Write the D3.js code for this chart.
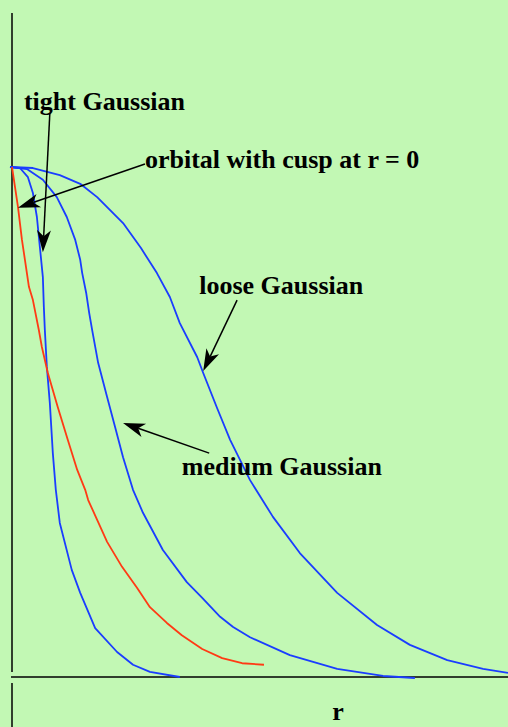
<!DOCTYPE html>
<html>
<head>
<meta charset="utf-8">
<script src="https://cdn.jsdelivr.net/npm/d3@7"></script>
<style>
  html, body { margin: 0; padding: 0; background: #c2f8b4; overflow: hidden; }
  svg { display: block; }
  text { font-family: "Liberation Serif", "Times New Roman", serif; font-weight: bold; fill: #000; }
</style>
</head>
<body>
<svg id="chart" width="508" height="727"></svg>
<script>
// Radial wavefunctions psi(r), normalised to 1 at the nucleus.
const tightR   = [0, 0.20, 0.36, 0.46, 0.54, 0.60, 0.66, 0.68, 0.70, 0.74, 0.80, 0.86, 0.92, 1.00, 1.24, 1.41, 1.71, 2.15, 2.47, 2.81, 3.41];
const tightPsi = [1.000, 0.998, 0.980, 0.949, 0.902, 0.843, 0.784, 0.725, 0.680, 0.608, 0.537, 0.439, 0.367, 0.302, 0.210, 0.165, 0.096, 0.049, 0.024, 0.010, 0.000];

const cuspR   = [0.04, 0.10, 0.16, 0.24, 0.30, 0.38, 0.46, 0.58, 0.64, 0.76, 0.96, 1.16, 1.35, 1.51, 1.57, 1.75, 1.95, 2.25, 2.55, 2.81, 3.15, 3.45, 3.86, 4.26, 4.66, 5.10];
const cuspPsi = [1.000, 0.961, 0.922, 0.857, 0.818, 0.765, 0.739, 0.680, 0.647, 0.596, 0.529, 0.465, 0.406, 0.367, 0.347, 0.308, 0.265, 0.216, 0.175, 0.137, 0.106, 0.082, 0.055, 0.037, 0.027, 0.024];

const mediumR   = [0, 0.34, 0.66, 0.94, 1.14, 1.31, 1.41, 1.45, 1.53, 1.59, 1.65, 1.77, 1.95, 2.11, 2.27, 2.47, 2.67, 3.07, 3.55, 3.86, 4.22, 4.48, 4.82, 5.62, 6.57, 7.49, 8.13];
const mediumPsi = [1.000, 0.996, 0.975, 0.941, 0.902, 0.857, 0.818, 0.792, 0.753, 0.714, 0.680, 0.616, 0.549, 0.490, 0.431, 0.367, 0.322, 0.249, 0.186, 0.155, 0.118, 0.098, 0.078, 0.043, 0.016, 0.002, -0.002];

const looseR   = [0, 0.46, 1.00, 1.41, 1.75, 2.27, 2.63, 2.95, 3.21, 3.41, 3.76, 3.88, 4.16, 4.42, 4.82, 5.28, 5.82, 6.57, 7.37, 8.03, 8.78, 9.50, 10.00];
const loosePsi = [1.000, 0.998, 0.984, 0.967, 0.941, 0.890, 0.841, 0.792, 0.745, 0.694, 0.627, 0.596, 0.527, 0.465, 0.386, 0.314, 0.243, 0.165, 0.102, 0.063, 0.033, 0.016, 0.008];

// Annotation text and arrows, in data coordinates (r, psi).
const labelText = ["tight Gaussian", "orbital with cusp at r = 0", "loose Gaussian", "medium Gaussian"];
const labelR    = [0.28, 2.71, 3.80, 3.45];
const labelPsi  = [1.112, 0.998, 0.751, 0.396];
const arrowFromR   = [0.80, 2.71, 4.56, 4.00];
const arrowFromPsi = [1.106, 1.006, 0.739, 0.439];
const arrowToR     = [0.66, 0.16, 3.88, 2.27];
const arrowToPsi   = [0.833, 0.920, 0.600, 0.498];

const axisTitle = "r";

const svg = d3.select("#chart");
const W = 508, H = 727;

const x = d3.scaleLinear().domain([0, 10]).range([10, 508]);
const y = d3.scaleLinear().domain([0, 1]).range([677, 167]);

const BLUE = "#1a3dff", RED = "#ff3a14";

// Axes: plain lines, no ticks.
const axisX = 12;
svg.append("line").attr("x1", axisX).attr("x2", axisX).attr("y1", 13).attr("y2", 672)
  .attr("stroke", "#000").attr("stroke-width", 1.5);
svg.append("line").attr("x1", axisX).attr("x2", axisX).attr("y1", 683).attr("y2", H)
  .attr("stroke", "#000").attr("stroke-width", 1.5);
svg.append("line").attr("x1", 11).attr("x2", W).attr("y1", y(0)).attr("y2", y(0))
  .attr("stroke", "#000").attr("stroke-width", 1.5);

// Curves
const line = d3.line().x(d => x(d[0])).y(d => y(d[1]));
const series = [
  { r: tightR,  p: tightPsi,  c: BLUE },
  { r: mediumR, p: mediumPsi, c: BLUE },
  { r: looseR,  p: loosePsi,  c: BLUE },
  { r: cuspR,   p: cuspPsi,   c: RED }
];
series.forEach(s => {
  svg.append("path")
    .datum(s.r.map((v, i) => [v, s.p[i]]))
    .attr("d", line)
    .attr("fill", "none")
    .attr("stroke", s.c)
    .attr("stroke-width", 1.8)
    .attr("stroke-linejoin", "round");
});

// Arrows with notched, filled heads
function arrow(x1, y1, x2, y2) {
  const ang = Math.atan2(y2 - y1, x2 - x1);
  const L = 22, Wd = 7, notch = 16;
  const ux = Math.cos(ang), uy = Math.sin(ang);
  const px = -uy, py = ux;
  const bx = x2 - ux * L, by = y2 - uy * L;
  const nx = x2 - ux * notch, ny = y2 - uy * notch;
  svg.append("line")
    .attr("x1", x1).attr("y1", y1).attr("x2", nx).attr("y2", ny)
    .attr("stroke", "#000").attr("stroke-width", 1.5);
  svg.append("path")
    .attr("d", `M${x2},${y2} L${bx + px * Wd},${by + py * Wd} L${nx},${ny} L${bx - px * Wd},${by - py * Wd} Z`)
    .attr("fill", "#000");
}
labelText.forEach((t, i) => {
  arrow(x(arrowFromR[i]), y(arrowFromPsi[i]), x(arrowToR[i]), y(arrowToPsi[i]));
});

// Labels
svg.selectAll("text.lbl")
  .data(labelText)
  .join("text")
  .attr("class", "lbl")
  .attr("x", (d, i) => x(labelR[i]))
  .attr("y", (d, i) => y(labelPsi[i]))
  .attr("font-size", 26)
  .text(d => d);

svg.append("text")
  .attr("x", 338).attr("y", 720)
  .attr("text-anchor", "middle")
  .attr("font-size", 26)
  .text(axisTitle);
</script>
</body>
</html>
